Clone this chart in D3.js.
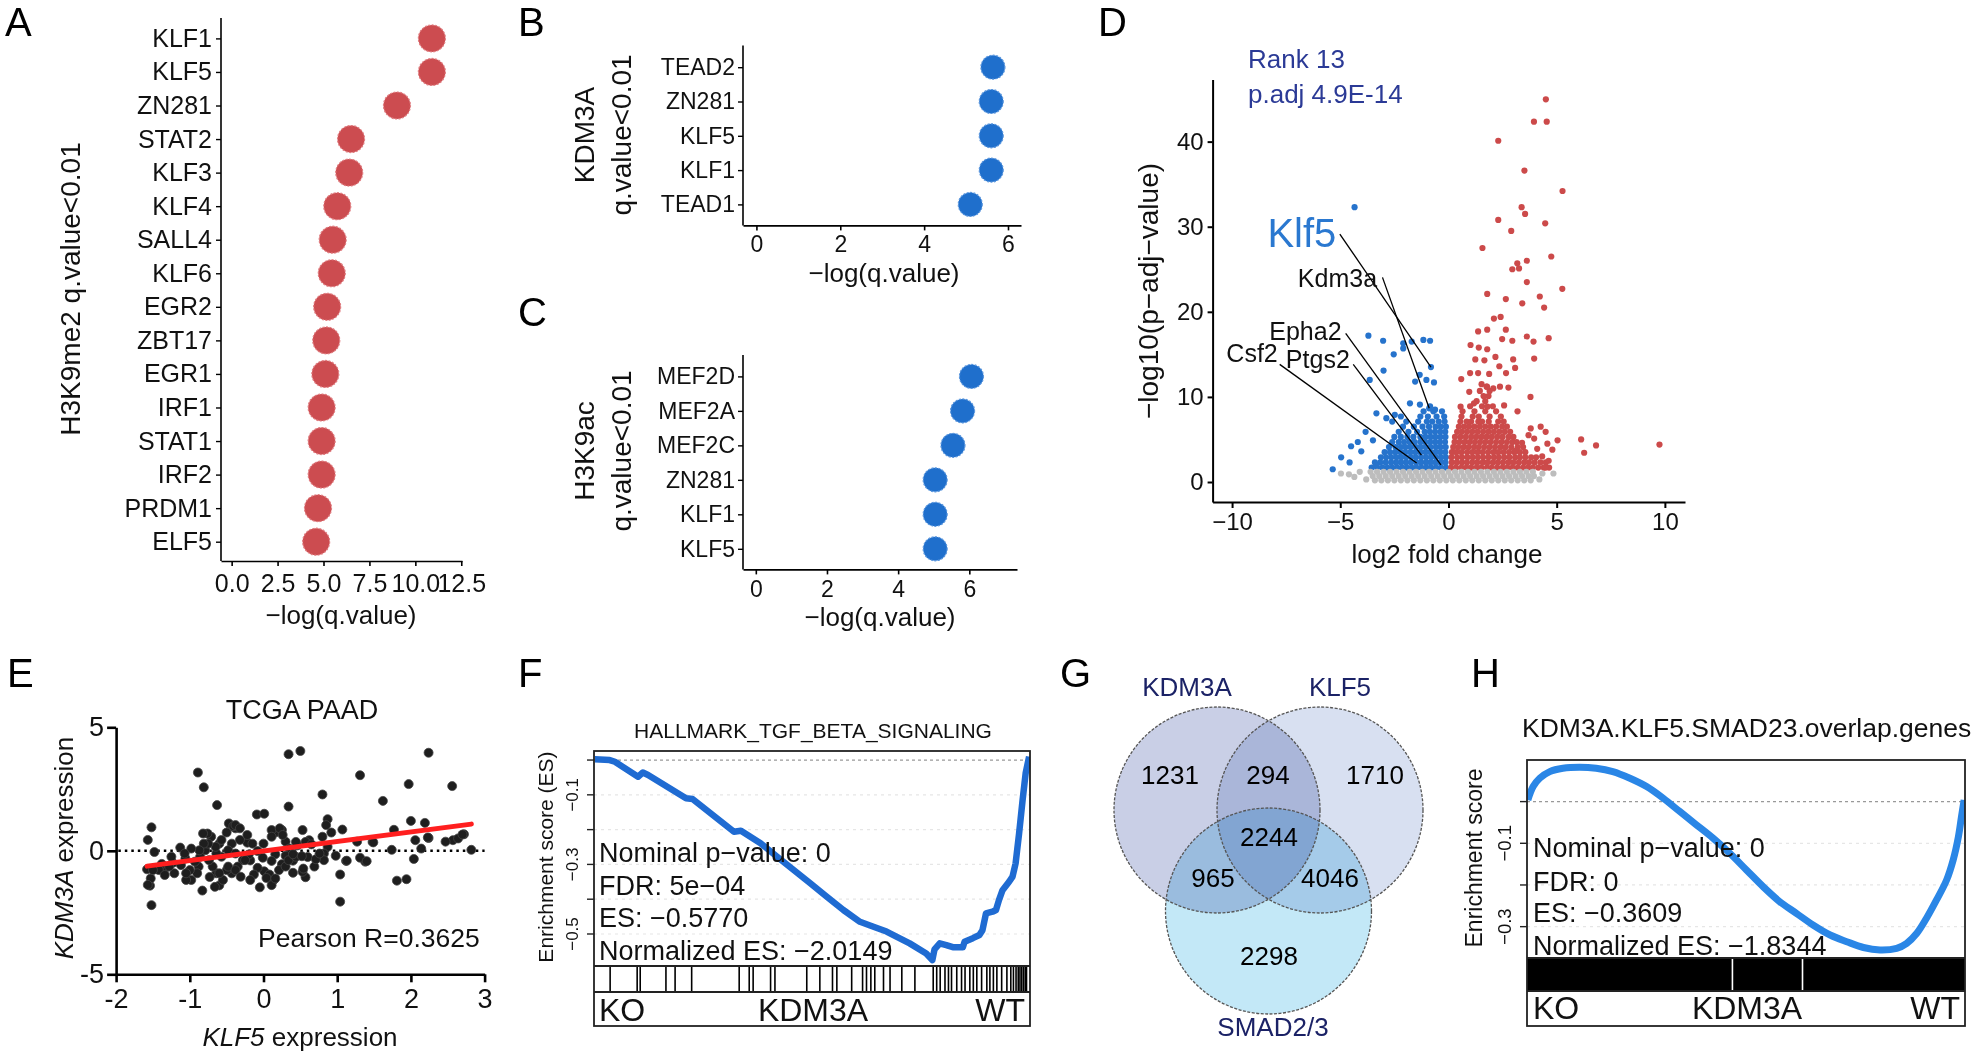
<!DOCTYPE html>
<html><head><meta charset="utf-8">
<script src="https://cdn.jsdelivr.net/npm/d3@7"></script>
<style>
body{margin:0;background:#fff;}
svg{display:block;font-family:"Liberation Sans",Arial,Helvetica,sans-serif;}
</style></head><body>
<svg id="fig" width="1980" height="1055"></svg>
<script>
// ---------------- DATA ----------------
// A: H3K9me2 motif enrichment
const aGenes = ["KLF1","KLF5","ZN281","STAT2","KLF3","KLF4","SALL4","KLF6","EGR2","ZBT17","EGR1","IRF1","STAT1","IRF2","PRDM1","ELF5"];
const aVals  = [10.9,10.9,9.0,6.5,6.4,5.75,5.5,5.45,5.2,5.15,5.1,4.9,4.9,4.9,4.7,4.6];
const aTicks = [0,2.5,5,7.5,10,12.5];
// B: KDM3A
const bGenes = ["TEAD2","ZN281","KLF5","KLF1","TEAD1"];
const bVals  = [5.64,5.6,5.6,5.6,5.1];
const bTicks = [0,2,4,6];
// C: H3K9ac
const cGenes = ["MEF2D","MEF2A","MEF2C","ZN281","KLF1","KLF5"];
const cVals  = [6.06,5.81,5.54,5.04,5.04,5.04];
const cTicks = [0,2,4,6];

// D: volcano (log2FC, -log10 padj)
const upSparse = [[4.50,44.97],[3.95,42.34],[4.54,42.34],[2.30,40.1],[3.51,36.6],[5.27,34.2],[3.38,32.3],[3.54,31.5],[2.30,30.8],[4.47,30.4],[2.90,29.5],[1.57,27.5],[4.75,26.5],[3.62,26.0],[3.18,25.7],[2.95,25.0],[3.26,25.1],[3.62,23.5],[5.26,22.7],[1.79,22.1],[2.65,21.5],[3.41,21.0],[4.22,21.8],[4.42,20.5],[2.10,19.2],[2.41,19.4],[1.37,17.7],[1.79,17.9],[2.65,17.9],[3.62,17.1],[4.63,16.9],[1.02,16.1],[1.40,15.8],[1.79,15.6],[2.48,16.8],[2.95,16.6],[3.93,16.5],[3.96,14.5],[1.24,14.4],[1.66,14.3],[2.17,14.7],[2.99,14.4],[0.59,12.1],[1.00,12.8],[1.37,12.8],[1.88,12.7],[2.35,13.6],[2.66,12.8],[3.08,13.4],[0.96,10.6],[1.53,11.5],[1.76,11.2],[2.07,11.0],[2.38,11.2],[2.77,11.1],[3.79,10.0],[0.56,8.85],[1.18,9.24],[1.80,8.85],[2.57,9.0],[3.19,8.3],[3.80,6.3],[4.26,6.5],[4.49,5.9],[3.96,5.1],[5.04,4.9],[4.57,4.5],[4.80,3.8],[4.33,3.0],[4.49,1.7],[6.13,5.0],[6.82,4.3],[6.27,3.44],[9.75,4.4],[4.63,2.5],[3.10,3.7],[3.4,4.6],[4.1,3.9],[3.7,5.5]];
const upDenseY = [1.7,2.3,2.9,3.5,4.1,4.7,5.3,5.9,6.5,7.1,7.7,8.3,8.9,9.5,10.1,10.7,11.2];
const upDenseX = [
 [0.12,0.35,0.6,0.83,1.05,1.3,1.52,1.78,2.0,2.25,2.5,2.72,2.96,3.2,3.45,3.68,3.9,4.15,4.4,4.65],
 [0.15,0.38,0.62,0.85,1.1,1.33,1.58,1.8,2.05,2.28,2.52,2.77,3.0,3.25,3.5,3.72,3.98,4.25,4.5],
 [0.14,0.4,0.63,0.88,1.12,1.36,1.6,1.85,2.1,2.33,2.58,2.82,3.08,3.3,3.55,3.82,4.05],
 [0.16,0.36,0.6,0.86,1.1,1.34,1.58,1.83,2.08,2.3,2.55,2.8,3.05,3.3,3.55],
 [0.22,0.45,0.7,0.93,1.18,1.4,1.65,1.9,2.15,2.4,2.64,2.9,3.2,3.45],
 [0.28,0.5,0.74,0.98,1.22,1.46,1.7,1.95,2.2,2.45,2.7,2.95,3.15],
 [0.3,0.55,0.8,1.05,1.28,1.52,1.76,2.0,2.25,2.5,2.78,3.0],
 [0.4,0.62,0.86,1.1,1.35,1.6,1.85,2.1,2.35,2.6,2.85],
 [0.48,0.72,0.95,1.2,1.45,1.7,1.95,2.2,2.48,2.7],
 [0.55,0.84,1.05,1.38,1.55,1.86,2.3,2.55],
 [0.6,1.12,1.4,1.9,2.42],
 [0.65,1.2,1.7,2.2],
 [1.0,1.55,2.05],
 [1.3,1.7],
 [1.62,1.85],
 [1.45,1.9],
 [1.78]];
const downSparse = [[-4.34,32.3],[-3.02,16.6],[-2.09,16.3],[-1.70,16.5],[-1.16,16.7],[-0.85,16.6],[-3.70,17.2],[-2.53,15.0],[-2.09,15.7],[-3.0,13.1],[-0.81,13.5],[-1.33,12.6],[-1.02,12.0],[-0.67,11.7],[-1.54,11.8],[-3.64,12.0],[-1.78,9.24],[-1.32,9.1],[-0.85,8.9],[-0.62,8.5],[-0.89,8.66],[-3.33,8.07],[-2.87,7.5],[-2.48,7.9],[-3.83,5.9],[-3.49,4.9],[-4.19,4.7],[-4.50,4.2],[-4.03,3.6],[-4.96,2.9],[-5.35,1.5],[-4.57,2.3],[-3.33,2.0]];
const downDenseY = [1.7,2.3,2.9,3.5,4.1,4.7,5.3,5.9,6.5,7.1,7.7,8.3];
const downDenseX = [
 [-0.12,-0.35,-0.58,-0.8,-1.02,-1.25,-1.48,-1.7,-1.93,-2.15,-2.38,-2.6,-2.82,-3.05,-3.3,-3.55],
 [-0.14,-0.37,-0.6,-0.83,-1.05,-1.28,-1.5,-1.74,-1.97,-2.2,-2.42,-2.65,-2.9,-3.15,-3.4],
 [-0.12,-0.34,-0.57,-0.8,-1.03,-1.26,-1.5,-1.72,-1.95,-2.18,-2.4,-2.64,-2.88,-3.12],
 [-0.15,-0.38,-0.6,-0.84,-1.06,-1.3,-1.53,-1.76,-2.0,-2.22,-2.46,-2.7,-2.95],
 [-0.13,-0.36,-0.58,-0.82,-1.05,-1.28,-1.5,-1.75,-1.98,-2.2,-2.45,-2.75],
 [-0.16,-0.4,-0.62,-0.85,-1.08,-1.3,-1.56,-1.8,-2.05,-2.3,-2.6],
 [-0.14,-0.37,-0.6,-0.82,-1.06,-1.3,-1.62,-1.9,-2.2,-2.5],
 [-0.15,-0.38,-0.62,-0.86,-1.1,-1.45,-1.85,-2.3],
 [-0.12,-0.36,-0.6,-0.9,-1.2,-1.6,-2.1],
 [-0.18,-0.45,-0.75,-1.0,-1.4,-1.95,-2.6],
 [-0.2,-0.55,-0.95,-1.3,-2.2],
 [-0.3,-0.7,-1.15]];
const nsDenseY = [0.2,0.7,1.2];
const nsDenseX = [
 [-3.4,-3.1,-2.8,-2.5,-2.2,-1.9,-1.6,-1.3,-1.0,-0.7,-0.4,-0.1,0.2,0.5,0.8,1.1,1.4,1.7,2.0,2.3,2.6,2.9,3.2,3.5,3.8],
 [-3.5,-3.2,-2.9,-2.6,-2.3,-2.0,-1.7,-1.4,-1.1,-0.8,-0.5,-0.2,0.1,0.4,0.7,1.0,1.3,1.6,1.9,2.2,2.5,2.8,3.1,3.4,3.7,3.95],
 [-3.6,-3.3,-3.0,-2.7,-2.4,-2.1,-1.8,-1.5,-1.2,-0.9,-0.6,-0.3,0.0,0.3,0.6,0.9,1.2,1.5,1.8,2.1,2.4,2.7,3.0,3.3,3.6,3.9]];
const nsSparse = [[-4.97,1.0],[-4.35,0.6],[-3.8,0.3],[-4.6,0.9],[4.34,1.0],[4.85,1.0],[-4.1,1.2],[4.2,0.3]];
// gene labels: [name, label x, label y, line start x, y, gene x, y]
const geneLabels = [
 ["Klf5",-5.18,27.6,-5.02,29.14,-0.81,13.5],
 ["Kdm3a",-3.30,22.95,-3.05,24.05,-0.89,8.66],
 ["Epha2",-4.94,16.69,-4.75,17.47,-0.35,2.0],
 ["Csf2",-7.89,14.14,-7.80,13.82,-1.47,2.23],
 ["Ptgs2",-4.56,13.36,-4.40,13.82,-1.25,3.17]];
const volXTicks = [-10,-5,0,5,10];
const volYTicks = [0,10,20,30,40];

// E: TCGA PAAD KLF5 vs KDM3A expression
const ePoints = [[-0.89,3.17],[-0.81,2.57],[-0.63,1.85],[0.34,3.91],[0.50,4.04],[2.24,3.97],[1.31,3.06],[1.97,2.70],[2.56,2.62],[0.80,2.28],[1.62,2.02],[0.34,1.79],[-0.09,1.47],[0.01,1.50],[-1.52,0.95],[-1.57,0.44],[2.00,1.21],[2.19,1.13],[1.77,0.85],[2.57,0.43],[2.47,0.37],[2.72,0.67],[2.64,0.50],[2.82,0.04],[2.06,0.43],[2.24,0.52],[2.14,0.09],[2.04,-0.33],[1.74,0.04],[1.48,0.36],[1.38,-0.44],[1.27,0.37],[1.12,-0.41],[1.07,0.86],[0.98,-0.20],[1.04,-0.96],[1.04,-2.06],[1.81,-1.21],[1.94,-1.15],[0.57,-1.07],[0.40,-0.89],[0.53,-0.85],[-0.05,-1.48],[-0.83,-1.61],[-1.52,-2.2],[-1.54,-1.41],[-1.53,-1.12],[-1.58,-0.75],[0.87,1.28],[0.85,1.04],[0.92,0.74],[0.80,0.57],[0.87,0.16],[0.82,-0.11],[0.82,-0.38],[0.62,0.43],[0.60,-0.25],[0.54,-0.72],[0.57,0.36],[0.46,0.22],[0.53,0.84],[0.25,0.84],[0.16,0.74],[0.11,0.84],[0.11,0.57],[0.30,0.37],[0.35,0.09],[0.30,-0.20],[0.40,-0.40],[0.25,-0.54],[0.16,-0.14],[0.11,-0.41],[0.01,-0.83],[0.08,-0.96],[0.13,-1.21],[0.04,-1.10],[-0.08,-0.69],[-0.13,-0.96],[-0.18,-0.39],[-0.20,-0.15],[-0.08,-0.01],[-0.01,-0.28],[-0.22,0.33],[-0.32,0.44],[-0.38,0.91],[-0.44,0.98],[-0.50,0.74],[-0.43,0.29],[-0.48,0.02],[-0.38,-0.11],[-0.28,-0.38],[-0.35,-0.64],[-0.43,-0.91],[-0.50,-0.78],[-0.57,-0.24],[-0.64,-0.91],[-0.60,-1.40],[-0.66,-1.46],[-0.73,-1.06],[-0.69,-0.64],[-0.64,-0.11],[-0.60,0.29],[-0.57,0.44],[-0.65,0.16],[-0.71,0.57],[-0.76,0.70],[-0.82,0.70],[-0.79,0.02],[-0.86,-0.24],[-0.88,-0.64],[-0.90,-0.91],[-0.98,-1.18],[-0.93,-0.44],[-1.00,-0.78],[-1.05,-1.18],[-1.05,-0.91],[-1.12,-0.58],[-1.06,-0.31],[-1.13,0.13],[-1.23,-0.49],[-1.21,-0.91],[-1.35,-0.78],[-1.38,-0.53],[-1.42,-0.78],[-1.50,-0.78],[-1.57,-1.38],[-1.48,-0.05],[-1.25,-0.24],[-0.47,1.11],[-0.41,1.0],[-0.38,1.04],[-0.32,0.91],[-0.22,0.64],[-0.15,0.29],[-0.25,-0.38],[-0.48,-0.64],[-0.55,-1.18],[-0.60,-0.91],[-0.74,-0.38],[-0.75,0.29],[-0.81,0.29],[-0.87,0.02],[-0.98,0.09],[-1.07,-0.11],[-1.28,-0.64],[-1.34,-0.98],[-0.38,-0.78],[-0.31,-1.05],[-0.18,-1.18],[0.11,-1.39],[0.16,-1.12],[0.21,-0.78],[0.30,-0.64],[0.34,-0.38],[0.44,-0.24],[0.52,-0.22],[0.69,-0.64],[0.71,-0.34],[0.76,-0.11],[0.65,0.26],[0.44,0.36],[0.40,-0.14],[0.22,0.91],[0.26,0.64],[0.00,0.29],[1.31,-0.28],[1.49,0.34],[1.40,-0.42],[1.13,-0.40],[2.70,0.66],[2.23,0.54]];
const eFitX = [-1.58,2.82];
const eFitY = [-0.62,1.08];
const eXTicks = [-2,-1,0,1,2,3];
const eYTicks = [-5,0,5];

// F: GSEA HALLMARK_TGF_BETA_SIGNALING
const fRank = [0.2,3.6,4.8,10.1,11.2,12.4,21.1,22.6,32.1,33.7,38.2,42.0,45.8,49.6,53.4,57.2,61.0,64.1,67.1,72.4,76.2,77.6,78.1,79.3,80.8,82.3,84.6,85.0,86.9,88.4,89.1,89.9,91.4,92.2,92.9,93.7,95.2,96.0,96.7,97.5,98.3,99.0,99.8];
const fES = [0.002,0.0,-0.005,-0.048,-0.036,-0.043,-0.110,-0.112,-0.206,-0.203,-0.239,-0.278,-0.316,-0.354,-0.393,-0.431,-0.465,-0.479,-0.493,-0.527,-0.556,-0.575,-0.544,-0.527,-0.532,-0.538,-0.538,-0.522,-0.512,-0.503,-0.489,-0.441,-0.436,-0.431,-0.402,-0.374,-0.350,-0.335,-0.297,-0.211,-0.115,-0.038,0.010];
const fHits = [3.7,9.9,10.6,16.5,18.6,22.4,33.3,35.6,36.5,40.5,41.5,48.8,51.8,54.7,55.7,59.1,61.6,62.5,63.5,64.4,66.4,67.9,70.6,73.6,77.8,78.6,79.4,80.5,81.3,82.0,83.2,84.3,85.1,86.2,87.0,87.8,88.9,90.1,90.8,91.6,92.4,93.5,94.7,95.6,96.2,96.8,97.3,97.7,98.1,98.5,98.9,99.2];
const fStats = ["Nominal p\u2212value: 0","FDR: 5e\u221204","ES: \u22120.5770","Normalized ES: \u22122.0149"];
const esTicksF = [0,-0.1,-0.2,-0.3,-0.4,-0.5];
const esLabelsF = [-0.1,-0.3,-0.5];

// G: Venn
const vennSets = ["KDM3A","KLF5","SMAD2/3"];
const vennCounts = {kdm3a:1231, kdm3a_klf5:294, klf5:1710, all:2244, kdm3a_smad:965, klf5_smad:4046, smad:2298};

// H: GSEA overlap genes
const hRank = [0.2,1.4,2.9,5.2,8.2,12.0,15.8,19.6,23.5,27.3,31.1,34.9,38.7,42.5,46.3,50.1,53.9,57.7,61.5,65.3,69.2,73.0,76.8,80.6,84.4,86.7,89.0,91.2,93.5,95.8,97.3,98.5,99.2,99.8];
const hES = [0.004,0.036,0.056,0.072,0.080,0.0825,0.080,0.072,0.056,0.036,0.008,-0.024,-0.056,-0.088,-0.124,-0.164,-0.204,-0.240,-0.268,-0.296,-0.320,-0.336,-0.350,-0.356,-0.352,-0.340,-0.316,-0.280,-0.236,-0.188,-0.140,-0.084,-0.036,0.004];
const hGaps = [46.9,62.9];
const hStats = ["Nominal p\u2212value: 0","FDR: 0","ES: \u22120.3609","Normalized ES: \u22121.8344"];
const esTicksH = [0,-0.1,-0.2,-0.3];
const esLabelsH = [-0.1,-0.3];

// ---------------- DRAW ----------------
const svg = d3.select("#fig");
const INK = "#111";

function txt(x, y, s, o = {}) {
  const t = svg.append("text").attr("x", x).attr("y", y).text(s)
    .attr("font-size", o.size || 20).attr("fill", o.fill || INK)
    .attr("text-anchor", o.anchor || "start");
  if (o.dy) t.attr("dy", o.dy);
  if (o.rotate) t.attr("transform", `rotate(-90,${x},${y})`);
  if (o.italic) t.attr("font-style", "italic");
  return t;
}
function styleAxis(g, size, sw) {
  g.attr("font-family", null).attr("font-size", null);
  g.selectAll("text").attr("font-size", size).attr("fill", INK);
  g.selectAll("line").attr("stroke", "#000").attr("stroke-width", sw);
  g.select(".domain").attr("stroke", "#000").attr("stroke-width", sw);
}

// panel letters
[["A",5,36],["B",518,36],["C",518,326],["D",1098,36],["E",7,687],["F",518,687],["G",1060,687],["H",1471,687]]
  .forEach(([l,x,y]) => txt(x, y, l, {size: 40, fill: "#000"}));

// dot plots
function dotPanel(o) {
  const x = d3.scaleLinear().domain(o.xDom).range([o.x0, o.x1]);
  const y = d3.scalePoint().domain(o.genes).range([o.yFirst, o.yLast]);
  svg.append("line").attr("x1", o.x0).attr("x2", o.x0).attr("y1", o.yTop).attr("y2", o.yBot)
    .attr("stroke", "#000").attr("stroke-width", 1.6);
  const ya = svg.append("g").attr("transform", `translate(${o.x0},0)`)
    .call(d3.axisLeft(y).tickSize(5).tickPadding(o.yPad));
  ya.select(".domain").remove();
  styleAxis(ya, o.labelSize, 1.4);
  const xa = svg.append("g").attr("transform", `translate(0,${o.yBot})`)
    .call(d3.axisBottom(x).tickValues(o.ticks).tickFormat(o.fmt).tickSize(5).tickPadding(o.xPad).tickSizeOuter(0));
  styleAxis(xa, o.tickSize, 1.6);
  svg.append("g").selectAll("circle").data(o.genes).join("circle")
    .attr("cx", (d, i) => x(o.vals[i])).attr("cy", d => y(d)).attr("r", o.r)
    .attr("fill", o.color).attr("stroke", o.stroke).attr("stroke-width", 1.2).attr("stroke-dasharray", "2,1.5");
}
dotPanel({genes: aGenes, vals: aVals, xDom: [-0.58, 12.54], x0: 221, x1: 462, yTop: 18, yBot: 561,
  yFirst: 38.4, yLast: 541.7, ticks: aTicks, fmt: d3.format(".1f"), r: 13.5, color: "#cc4c50", stroke: "#e07d80",
  labelSize: 25, tickSize: 25, yPad: 4, xPad: 8});
txt(341, 615, "\u2212log(q.value)", {size: 26, anchor: "middle", dy: "0.35em"});
txt(70, 289, "H3K9me2 q.value<0.01", {size: 28, anchor: "middle", dy: "0.35em", rotate: true});

dotPanel({genes: bGenes, vals: bVals, xDom: [-0.32, 6.31], x0: 743, x1: 1021, yTop: 45.5, yBot: 225.4,
  yFirst: 67.2, yLast: 204.4, ticks: bTicks, fmt: d3.format("d"), r: 12, color: "#1f6fcc", stroke: "#5b97de",
  labelSize: 23, tickSize: 23, yPad: 3, xPad: 5});
txt(884, 273, "\u2212log(q.value)", {size: 26, anchor: "middle", dy: "0.35em"});
txt(584, 135, "KDM3A", {size: 28, anchor: "middle", dy: "0.35em", rotate: true});
txt(621, 135, "q.value<0.01", {size: 28, anchor: "middle", dy: "0.35em", rotate: true});

dotPanel({genes: cGenes, vals: cVals, xDom: [-0.36, 7.34], x0: 743, x1: 1017, yTop: 355, yBot: 569.4,
  yFirst: 376.4, yLast: 548.8, ticks: cTicks, fmt: d3.format("d"), r: 12, color: "#1f6fcc", stroke: "#5b97de",
  labelSize: 23, tickSize: 23, yPad: 3, xPad: 6});
txt(880, 617, "\u2212log(q.value)", {size: 26, anchor: "middle", dy: "0.35em"});
txt(584, 451, "H3K9ac", {size: 28, anchor: "middle", dy: "0.35em", rotate: true});
txt(621, 451, "q.value<0.01", {size: 28, anchor: "middle", dy: "0.35em", rotate: true});

// D volcano
(function () {
  const x = d3.scaleLinear().domain([-10.9, 10.93]).range([1212.6, 1685]);
  const y = d3.scaleLinear().domain([-2.35, 47.3]).range([502, 79.5]);
  const rows = (ys, xs) => ys.flatMap((yy, i) => xs[i].map(xx => [xx, yy]));
  const layers = [
    [rows(downDenseY, downDenseX), "#2673cc"], [rows(upDenseY, upDenseX), "#cc4a4a"],
    [rows(nsDenseY, nsDenseX), "#bdbdbd"], [nsSparse, "#bdbdbd"],
    [downSparse, "#2673cc"], [upSparse, "#cc4a4a"]];
  layers.forEach(([pts, col]) => {
    svg.append("g").selectAll("circle").data(pts).join("circle")
      .attr("cx", d => x(d[0])).attr("cy", d => y(d[1])).attr("r", 3.1).attr("fill", col);
  });
  const xa = svg.append("g").attr("transform", "translate(0,502)")
    .call(d3.axisBottom(x).tickValues(volXTicks).tickSize(6).tickPadding(5).tickSizeOuter(0));
  styleAxis(xa, 24, 2);
  const ya = svg.append("g").attr("transform", "translate(1212.6,0)")
    .call(d3.axisLeft(y).tickValues(volYTicks).tickSize(5).tickPadding(4).tickSizeOuter(0));
  styleAxis(ya, 24, 2);
  geneLabels.forEach(([n, lx, ly, sx, sy, gx, gy]) => {
    svg.append("line").attr("x1", x(sx)).attr("y1", y(sy)).attr("x2", x(gx)).attr("y2", y(gy))
      .attr("stroke", "#000").attr("stroke-width", 1.3);
    txt(x(lx), y(ly), n, n === "Klf5" ? {size: 40, anchor: "end", fill: "#2a78d0"} : {size: 25, anchor: "end"});
  });
  txt(1248, 59, "Rank 13", {size: 26, fill: "#2b3a96", dy: "0.35em"});
  txt(1248, 94, "p.adj 4.9E-14", {size: 26, fill: "#2b3a96", dy: "0.35em"});
  txt(1447, 554, "log2 fold change", {size: 26, anchor: "middle", dy: "0.35em"});
  txt(1148, 291, "\u2212log10(p\u2212adj\u2212value)", {size: 28, anchor: "middle", dy: "0.35em", rotate: true});
})();

// E scatter
(function () {
  const x = d3.scaleLinear().domain([-2, 3]).range([116.1, 484.6]);
  const y = d3.scaleLinear().domain([-5, 5]).range([974.3, 727.3]);
  const fmt = d => d < 0 ? "-" + Math.abs(d) : String(d);
  svg.append("line").attr("x1", x(-1.97)).attr("x2", x(3)).attr("y1", y(0)).attr("y2", y(0))
    .attr("stroke", "#000").attr("stroke-width", 2.6).attr("stroke-dasharray", "2.5,4");
  svg.append("g").selectAll("circle").data(ePoints).join("circle")
    .attr("cx", d => x(d[0])).attr("cy", d => y(d[1])).attr("r", 4.5)
    .attr("fill", "#1e1e1e").attr("stroke", "#444").attr("stroke-width", 0.8);
  svg.append("line").attr("x1", x(eFitX[0])).attr("y1", y(eFitY[0])).attr("x2", x(eFitX[1])).attr("y2", y(eFitY[1]))
    .attr("stroke", "#ff1f1f").attr("stroke-width", 5).attr("stroke-linecap", "round");
  const xa = svg.append("g").attr("transform", `translate(0,${y(-5)})`)
    .call(d3.axisBottom(x).tickValues(eXTicks).tickFormat(fmt).tickSize(8).tickPadding(7).tickSizeOuter(0));
  styleAxis(xa, 27, 2.6);
  const ya = svg.append("g").attr("transform", `translate(${x(-2)},0)`)
    .call(d3.axisLeft(y).tickValues(eYTicks).tickFormat(fmt).tickSize(9).tickPadding(3).tickSizeOuter(0));
  styleAxis(ya, 27, 2.6);
  txt(302, 710, "TCGA PAAD", {size: 27, anchor: "middle", dy: "0.35em"});
  txt(258, 938, "Pearson R=0.3625", {size: 26.5, dy: "0.35em"});
  const xt = txt(300, 1037, "", {size: 26, anchor: "middle", dy: "0.35em"});
  xt.append("tspan").attr("font-style", "italic").text("KLF5");
  xt.append("tspan").text(" expression");
  const yt = txt(64, 848, "", {size: 26, anchor: "middle", dy: "0.35em", rotate: true});
  yt.append("tspan").attr("font-style", "italic").text("KDM3A");
  yt.append("tspan").text(" expression");
})();

// GSEA panels
function gsea(o) {
  const x = d3.scaleLinear().domain([0, 100]).range([o.x0, o.x1]);
  const y = d3.scaleLinear().domain(o.yDom).range([o.esBot, o.top]);
  const g = svg.append("g");
  const clipId = "clip" + o.id;
  g.append("clipPath").attr("id", clipId).append("rect")
    .attr("x", o.x0).attr("y", o.top).attr("width", o.x1 - o.x0).attr("height", o.esBot - o.top);
  o.ticks.forEach(t => {
    if (t !== 0) g.append("line").attr("x1", o.x0).attr("x2", o.x1).attr("y1", y(t)).attr("y2", y(t))
      .attr("stroke", "#e6e6e6").attr("stroke-width", 1.2).attr("stroke-dasharray", "3,4");
  });
  g.append("line").attr("x1", o.x0).attr("x2", o.x1).attr("y1", y(0)).attr("y2", y(0))
    .attr("stroke", "#999").attr("stroke-width", 1.3).attr("stroke-dasharray", "3,3");
  const line = d3.line().x((d, i) => x(o.rank[i])).y(d => y(d)).curve(o.curve);
  g.append("path").attr("d", line(o.es)).attr("fill", "none").attr("stroke", o.color)
    .attr("stroke-width", o.lw).attr("stroke-linejoin", "round").attr("clip-path", `url(#${clipId})`);
  if (o.hits) {
    g.append("g").selectAll("line").data(o.hits).join("line")
      .attr("x1", d => x(d)).attr("x2", d => x(d)).attr("y1", o.esBot).attr("y2", o.stripBot)
      .attr("stroke", "#000").attr("stroke-width", 1.6);
  } else {
    g.append("rect").attr("x", o.x0).attr("y", o.esBot).attr("width", o.x1 - o.x0).attr("height", o.stripBot - o.esBot).attr("fill", "#000");
    g.append("g").selectAll("line").data(o.gaps).join("line")
      .attr("x1", d => x(d)).attr("x2", d => x(d)).attr("y1", o.esBot + 1).attr("y2", o.stripBot - 1)
      .attr("stroke", "#fff").attr("stroke-width", 1.6);
  }
  g.append("rect").attr("x", o.x0).attr("y", o.top).attr("width", o.x1 - o.x0).attr("height", o.bot - o.top)
    .attr("fill", "none").attr("stroke", "#222").attr("stroke-width", 1.8);
  [o.esBot, o.stripBot].forEach(yy => g.append("line").attr("x1", o.x0).attr("x2", o.x1).attr("y1", yy).attr("y2", yy)
    .attr("stroke", "#222").attr("stroke-width", 1.8));
  o.ticks.forEach(t => g.append("line").attr("x1", o.x0 - 7).attr("x2", o.x0).attr("y1", y(t)).attr("y2", y(t))
    .attr("stroke", "#222").attr("stroke-width", 1.4));
  o.labels.forEach(t => txt(o.tickLabX, y(t), d3.format(".1f")(t).replace("-", "\u2212"),
    {size: o.tickSize, anchor: "middle", dy: "0.35em", rotate: true}));
  o.stats.forEach((s, i) => txt(o.statX, o.statY[i], s, {size: 27, dy: "0.35em"}));
  txt(o.statX, o.labY, "KO", {size: 32, dy: "0.35em"});
  txt(o.midX, o.labY, "KDM3A", {size: 32, anchor: "middle", dy: "0.35em"});
  txt(o.x1 - 5, o.labY, "WT", {size: 32, anchor: "end", dy: "0.35em"});
}
gsea({id: "F", x0: 594, x1: 1030, top: 751, esBot: 966, stripBot: 992, bot: 1026, yDom: [-0.592, 0.026],
  rank: fRank, es: fES, hits: fHits, color: "#1f6bd2", lw: 6.5, curve: d3.curveLinear,
  ticks: esTicksF, labels: esLabelsF, tickLabX: 572, tickSize: 17,
  stats: fStats, statX: 599, statY: [853, 886, 918, 951], labY: 1010, midX: 813});
txt(813, 731, "HALLMARK_TGF_BETA_SIGNALING", {size: 21, anchor: "middle", dy: "0.35em"});
txt(546, 857, "Enrichment score (ES)", {size: 21, anchor: "middle", dy: "0.35em", rotate: true});

gsea({id: "H", x0: 1527, x1: 1965, top: 760, esBot: 958, stripBot: 991, bot: 1026, yDom: [-0.3752, 0.0998],
  rank: hRank, es: hES, gaps: hGaps, color: "#2a86e6", lw: 7, curve: d3.curveCatmullRom,
  ticks: esTicksH, labels: esLabelsH, tickLabX: 1505, tickSize: 18.5,
  stats: hStats, statX: 1533, statY: [848, 882, 913, 946], labY: 1008, midX: 1747});
txt(1522, 728, "KDM3A.KLF5.SMAD23.overlap.genes", {size: 26.5, dy: "0.35em"});
txt(1474, 858, "Enrichment score", {size: 23, anchor: "middle", dy: "0.35em", rotate: true});

// G Venn
(function () {
  const r = 103;
  const circles = [[1217, 810, "#c9cfe6"], [1320, 810, "#d8e0f1"], [1268.5, 911, "#c3e8f7"]];
  const g = svg.append("g");
  g.selectAll("circle").data(circles).join("circle")
    .attr("cx", d => d[0]).attr("cy", d => d[1]).attr("r", r).attr("fill", d => d[2])
    .style("mix-blend-mode", "multiply");
  g.append("g").selectAll("circle").data(circles).join("circle")
    .attr("cx", d => d[0]).attr("cy", d => d[1]).attr("r", r).attr("fill", "none")
    .attr("stroke", "#555").attr("stroke-width", 1.3).attr("stroke-dasharray", "3,1.5");
  const navy = "#1b2266";
  txt(1187, 687, vennSets[0], {size: 26, anchor: "middle", dy: "0.35em", fill: navy});
  txt(1340, 687, vennSets[1], {size: 26, anchor: "middle", dy: "0.35em", fill: navy});
  txt(1273, 1027, vennSets[2], {size: 26, anchor: "middle", dy: "0.35em", fill: navy});
  const pos = {kdm3a: [1170, 775], kdm3a_klf5: [1268, 775], klf5: [1375, 775], all: [1269, 837],
    kdm3a_smad: [1213, 878], klf5_smad: [1330, 878], smad: [1269, 956]};
  Object.keys(vennCounts).forEach(k => txt(pos[k][0], pos[k][1], vennCounts[k], {size: 26, anchor: "middle", dy: "0.35em", fill: "#000"}));
})();
</script>
</body></html>
